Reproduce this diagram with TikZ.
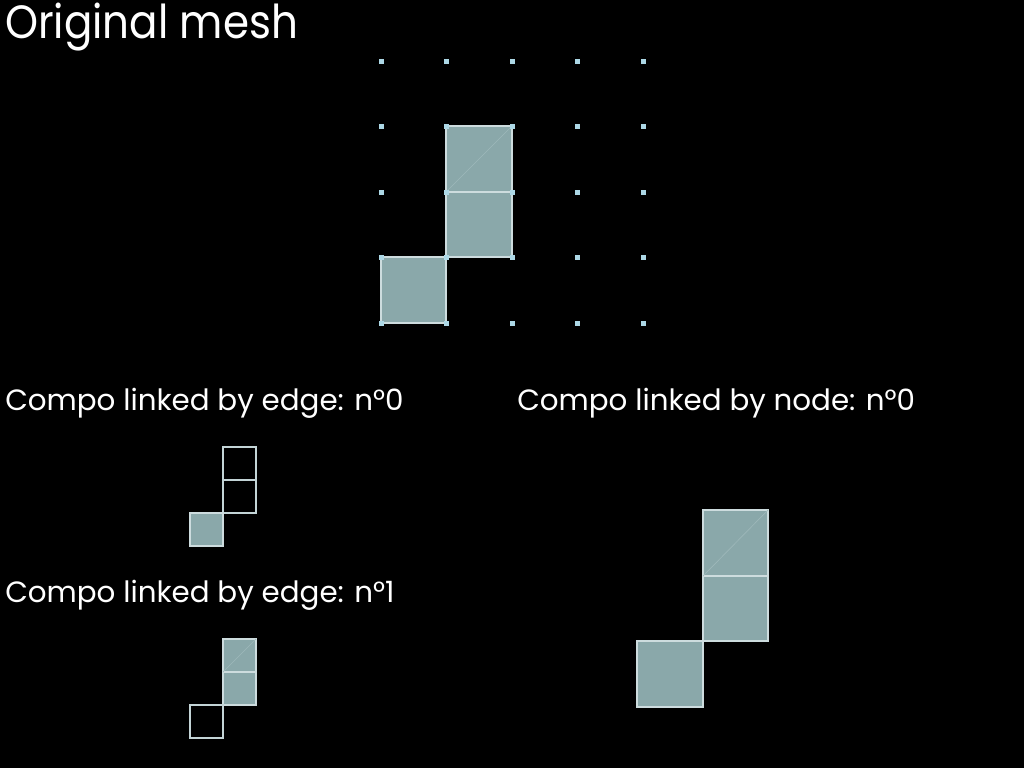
\documentclass[tikz,border=0pt]{standalone}
\usepackage{fontspec}
\setmainfont{Poppins}
\definecolor{cellfill}{RGB}{138,168,170}
\definecolor{celledge}{RGB}{205,220,222}
\definecolor{ptcol}{RGB}{173,216,230}
\newcommand{\lblfont}{\fontsize{22}{26}\selectfont}

\begin{document}
\begin{tikzpicture}[x=0.75pt,y=-0.75pt,
    cell/.style={fill=cellfill,draw=celledge,line width=1pt},
    hole/.style={draw=celledge!85!cellfill,line width=1pt},
    diag/.style={draw=celledge!30!cellfill,line width=0.5pt},
    lbl/.style={anchor=base west,text=white,inner sep=0pt,font=\lblfont}]
     \fill[black] (0,0) rectangle (1024,768);
     % original mesh
     \def\gs{65.5}
     \draw[cell] (446,126) rectangle (512,192);
     \draw[cell] (446,192) rectangle (512,257);
     \draw[cell] (381,257) rectangle (446,323);
     \draw[diag] (446,192) -- (512,126);
     \foreach \i in {0,...,4}
       \foreach \j in {0,...,4}
         \fill[ptcol] ({381+\i*\gs-2.5},{61+\j*\gs-2.5}) rectangle ++(5,5);
     \node[anchor=base west,text=white,inner sep=0pt,xscale=0.9,font=\fontsize{35}{42}\selectfont] (title) at (5,38) {Original mesh};
     % compo by edge 0
     \node[lbl] (edge0) at (5,410) {Compo linked by edge: n°0};
     \draw[hole] (223,447) rectangle (256,480);
     \draw[hole] (223,480) rectangle (256,513);
     \draw[cell] (190,513) rectangle (223,546);
     % compo by edge 1
     \node[lbl] (edge1) at (5,602) {Compo linked by edge: n°1};
     \draw[cell] (223,639) rectangle (256,672);
     \draw[cell] (223,672) rectangle (256,705);
     \draw[diag] (223,672) -- (256,639);
     \draw[hole] (190,705) rectangle (223,738);
     % compo by node 0
     \node[lbl] (node0) at (517,410) {Compo linked by node: n°0};
     \draw[cell] (703,510) rectangle (768,576);
     \draw[cell] (703,576) rectangle (768,641);
     \draw[cell] (637,641) rectangle (703,707);
     \draw[diag] (703,576) -- (768,510);
\end{tikzpicture}
\end{document}
